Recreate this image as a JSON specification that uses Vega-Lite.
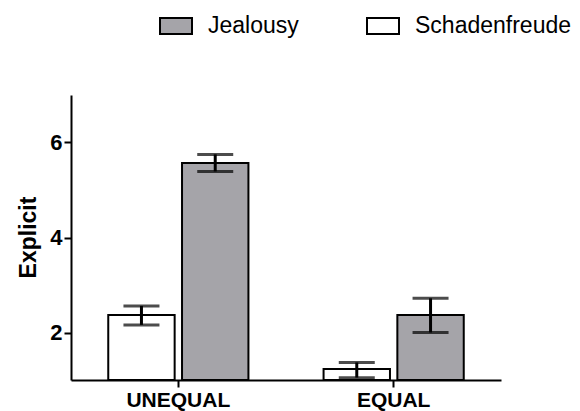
{
  "$schema": "https://vega.github.io/schema/vega-lite/v6.json",
  "autosize": {"type": "none"},
  "padding": {"left": 71, "top": 95, "right": 79, "bottom": 31},
  "width": 430,
  "height": 285,
  "background": "white",
  "config": {
    "view": {"stroke": null},
    "font": "Liberation Sans"
  },
  "data": {
    "values": [
      {"group": "UNEQUAL", "cond": "Schadenfreude", "mean": 2.37, "lo": 2.16, "hi": 2.56},
      {"group": "UNEQUAL", "cond": "Jealousy", "mean": 5.57, "lo": 5.39, "hi": 5.75},
      {"group": "EQUAL", "cond": "Schadenfreude", "mean": 1.23, "lo": 1.05, "hi": 1.37},
      {"group": "EQUAL", "cond": "Jealousy", "mean": 2.37, "lo": 2.0, "hi": 2.72}
    ]
  },
  "encoding": {
    "x": {
      "field": "group", "type": "nominal", "sort": ["UNEQUAL", "EQUAL"],
      "scale": {"paddingInner": 0.349, "paddingOuter": 0.173},
      "axis": {
        "title": null, "labelAngle": 0, "labelFont": "Liberation Sans", "labelFontSize": 21,
        "labelFontWeight": "bold", "labelColor": "black", "labelPadding": 2,
        "domainColor": "black", "domainWidth": 2, "tickColor": "black", "tickWidth": 2, "tickSize": 7
      }
    },
    "xOffset": {"field": "cond", "type": "nominal", "sort": ["Schadenfreude", "Jealousy"], "scale": {"paddingInner": 0.1}}
  },
  "layer": [
    {
      "mark": {"type": "bar", "stroke": "black", "strokeWidth": 2},
      "encoding": {
        "y": {
          "field": "mean", "type": "quantitative",
          "scale": {"domain": [1, 7], "nice": false, "zero": false},
          "axis": {
            "title": "Explicit", "values": [2, 4, 6], "grid": false,
            "titleFont": "Liberation Sans", "titleFontSize": 23, "titleFontWeight": "bold", "titleColor": "black",
            "titleX": -43, "titleY": 142, "titleAlign": "center", "titleBaseline": "middle", "titleAngle": -90,
            "labelFont": "Liberation Sans", "labelFontSize": 22, "labelFontWeight": "bold", "labelColor": "black", "labelPadding": 2,
            "domainColor": "black", "domainWidth": 2, "tickColor": "black", "tickWidth": 2, "tickSize": 7
          }
        },
        "y2": {"datum": 1},
        "fill": {
          "field": "cond", "type": "nominal",
          "scale": {"domain": ["Jealousy", "Schadenfreude"], "range": ["#a5a4a9", "#ffffff"]},
          "legend": {
            "title": null, "orient": "none", "direction": "horizontal",
            "legendX": 88, "legendY": -86,
            "symbolType": "M-1,-0.5H1V0.5H-1Z", "symbolSize": 1024,
            "symbolStrokeColor": "black", "symbolStrokeWidth": 2,
            "labelFont": "Liberation Sans", "labelFontSize": 23, "labelColor": "black",
            "labelOffset": 15, "columnPadding": 64
          }
        }
      }
    },
    {
      "mark": {"type": "rule", "color": "black", "strokeWidth": 3},
      "encoding": {
        "y": {"field": "lo", "type": "quantitative"},
        "y2": {"field": "hi"}
      }
    },
    {
      "mark": {"type": "tick", "color": "black", "thickness": 3, "size": 36, "orient": "horizontal"},
      "encoding": {"y": {"field": "lo", "type": "quantitative"}}
    },
    {
      "mark": {"type": "tick", "color": "black", "thickness": 3, "size": 36, "orient": "horizontal"},
      "encoding": {"y": {"field": "hi", "type": "quantitative"}}
    }
  ]
}
